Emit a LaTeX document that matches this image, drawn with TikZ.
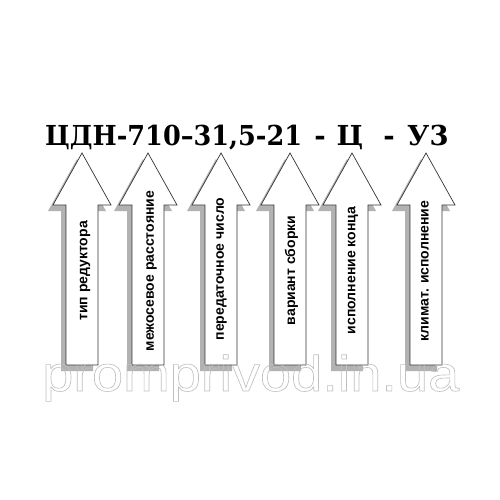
\documentclass[tikz,border=0pt]{standalone}
\usepackage{fontspec}
\setmainfont{Liberation Sans}
\newfontfamily\titlefont{DejaVu Serif}
\newfontfamily\wmfont{Liberation Sans}
\begin{document}
\begin{tikzpicture}[x=1pt,y=-1pt,
  arrowbody/.style={draw=black!80, fill=white, line width=0.7pt, line join=miter},
  arrowshadow/.style={fill=black!30, draw=none},
  lbl/.style={rotate=90, font=\fontsize{14}{14}\selectfont\bfseries, inner sep=0pt},
  ttl/.style={font=\titlefont\bfseries\fontsize{27.5}{30}\selectfont, inner sep=0pt, anchor=base west}]
\useasboundingbox (0,0) rectangle (500,500);
\fill[white] (0,0) rectangle (500,500);
% shadows
\foreach \cx in {82,148,221,290,352,426} {
  \fill[arrowshadow, shift={(-5,6)}] (\cx,153) -- ({\cx+29},205) -- ({\cx+16},205) -- ({\cx+16},365) -- ({\cx-16},365) -- ({\cx-16},205) -- ({\cx-29},205) -- cycle;
}
% arrows
\foreach \cx in {82,148,221,290,352,426} {
  \draw[arrowbody] (\cx,153) -- ({\cx+29},205) -- ({\cx+16},205) -- ({\cx+16},365) -- ({\cx-16},365) -- ({\cx-16},205) -- ({\cx-29},205) -- cycle;
}
% labels
\node[lbl] (l1) at (85,271) {тип редуктора};
\node[lbl] (l2) at (151.5,271) {межосевое расстояние};
\node[lbl] (l3) at (221.5,269) {передаточное число};
\node[lbl] (l4) at (291.5,270.5) {вариант сборки};
\node[lbl] (l5) at (353,270.5) {исполнение конца};
\node[lbl] (l6) at (425,271) {климат. исполнение};
% title
\node[ttl, xscale=0.93] (t1) at (45,145) {ЦДН-710–31,5-21};
\node[ttl, anchor=base] (t2) at (320,145) {-};
\node[ttl, anchor=base] (t3) at (350,145) {Ц};
\node[ttl, anchor=base] (t4) at (389,145) {-};
\node[ttl] (t5) at (407,145) {У3};
% watermark
\node[font=\wmfont\fontsize{50}{50}\selectfont, text=black!25, anchor=base west, inner sep=0pt, xscale=1.12] (wm) at (42,391) {\special{pdf:literal direct 1 Tr 0.6 w}promprivod.in.ua\special{pdf:literal direct 0 Tr}};
\end{tikzpicture}
\end{document}
